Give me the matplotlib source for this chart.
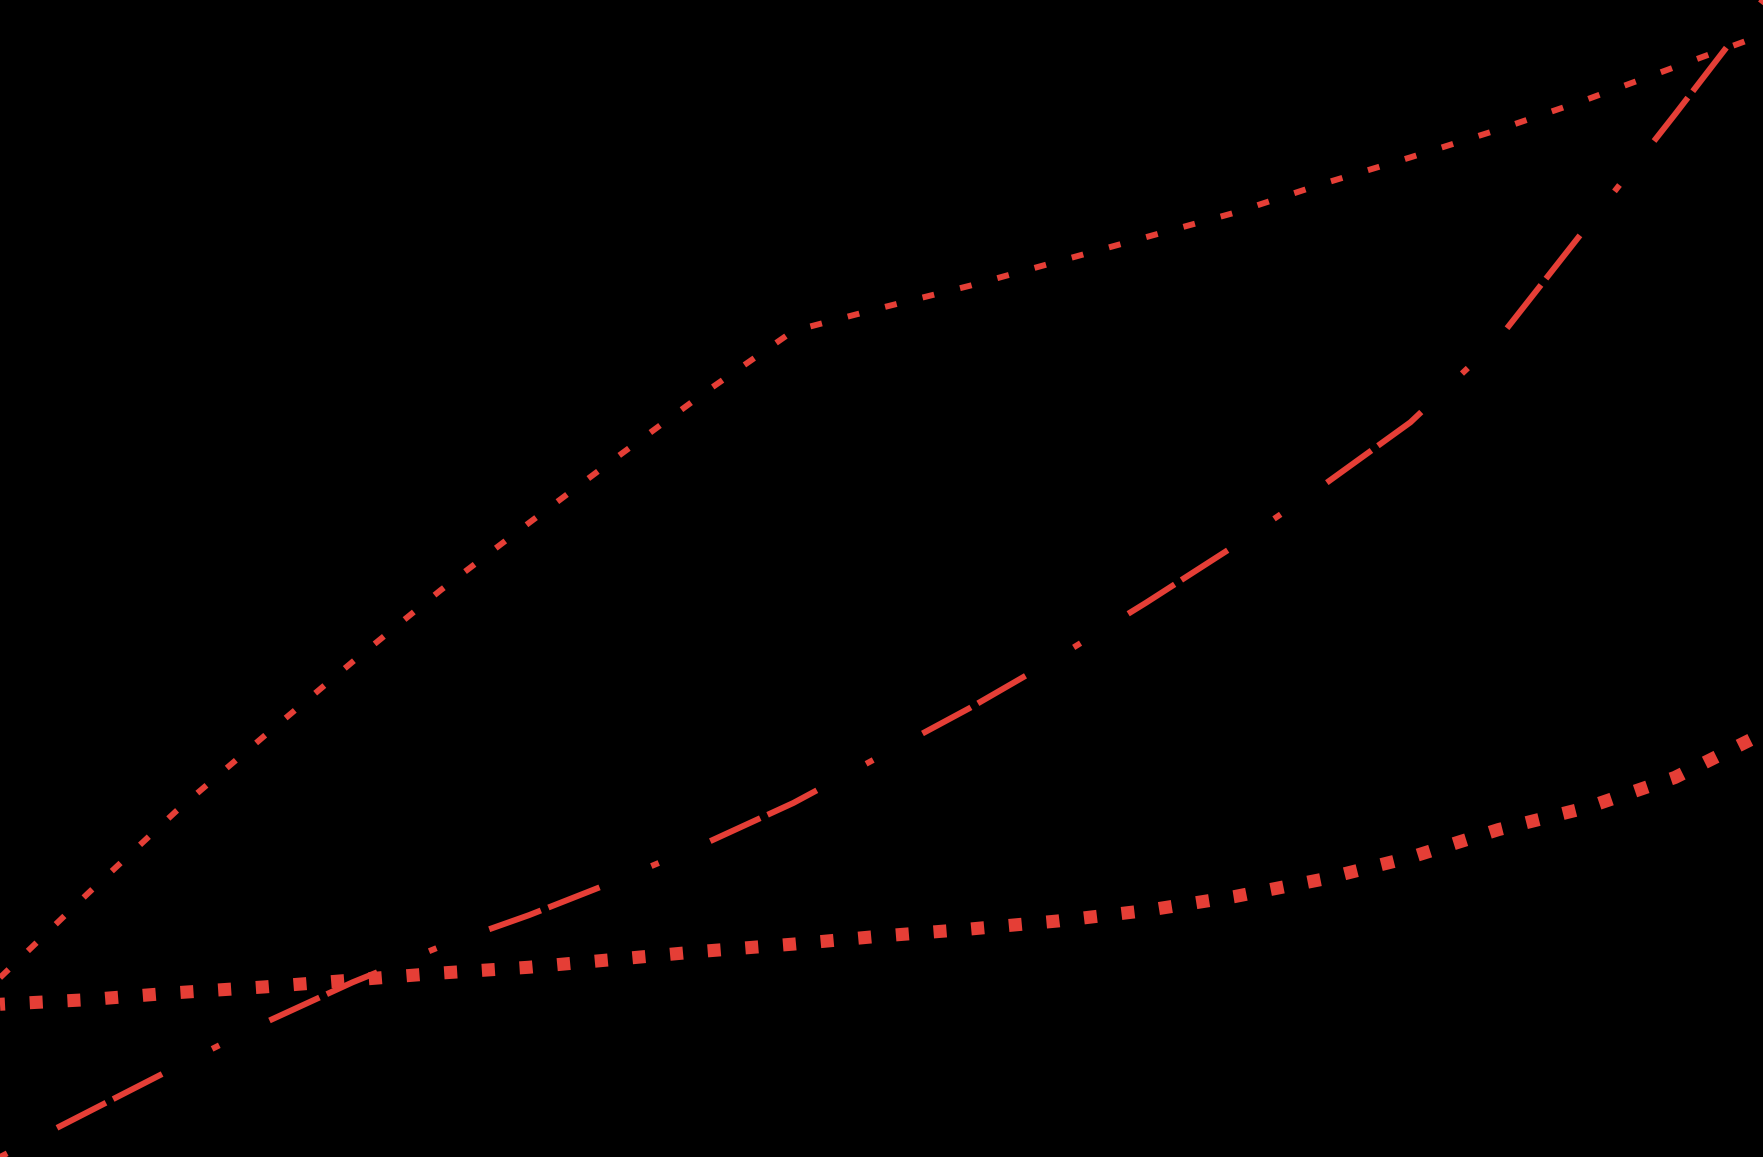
import matplotlib
matplotlib.use("Agg")
import matplotlib.pyplot as plt

# x positions (21 evenly spaced steps), y as share of the plot height (0-100)
steps = [0, 1, 2, 3, 4, 5, 6, 7, 8, 9, 10, 11, 12, 13, 14, 15, 16, 17, 18, 19, 20]

series_a = [15.5, 22.8, 29.9, 36.4, 42.8, 49.0, 54.8, 60.5, 66.1, 71.4, 73.4,
            75.3, 77.4, 79.5, 81.6, 84.1, 86.4, 88.8, 91.4, 94.2, 97.0]
series_b = [0.0, 3.9, 7.8, 11.6, 15.1, 18.2, 20.9, 23.9, 27.1, 30.6, 34.7,
            38.8, 43.2, 47.9, 52.8, 58.0, 63.5, 70.7, 80.4, 90.1, 100.0]
series_c = [13.2, 13.6, 14.2, 14.7, 15.3, 15.9, 16.4, 17.1, 17.8, 18.4, 19.1,
            19.7, 20.4, 21.3, 22.5, 24.0, 25.9, 28.3, 30.2, 32.8, 36.6]

red = "#e53e36"
plt.rcParams["lines.scale_dashes"] = False

fig = plt.figure(figsize=(17.63, 11.57), dpi=100, facecolor="black")
ax = fig.add_axes([0, 0, 1, 1])
ax.set_facecolor("black")

# short dashes
ax.plot(steps, series_a, color=red, lw=4.3, solid_capstyle="butt",
        dash_capstyle="butt", linestyle=(0, (8.6, 19.2)))
# dot - long dash - long dash
ax.plot(steps, series_b, color=red, lw=4.3, dash_capstyle="butt",
        linestyle=(0, (5.8, 40.3, 39.6, 5.8, 39.6, 40.3)))
# square dots
ax.plot(steps, series_c, color=red, lw=9.4, dash_capstyle="butt",
        linestyle=(5.8, (9.4, 17.8)))

ax.set_xlim(0, 20)
ax.set_ylim(0, 100)
ax.axis("off")

fig.savefig("out.png", dpi=100, facecolor="black")
